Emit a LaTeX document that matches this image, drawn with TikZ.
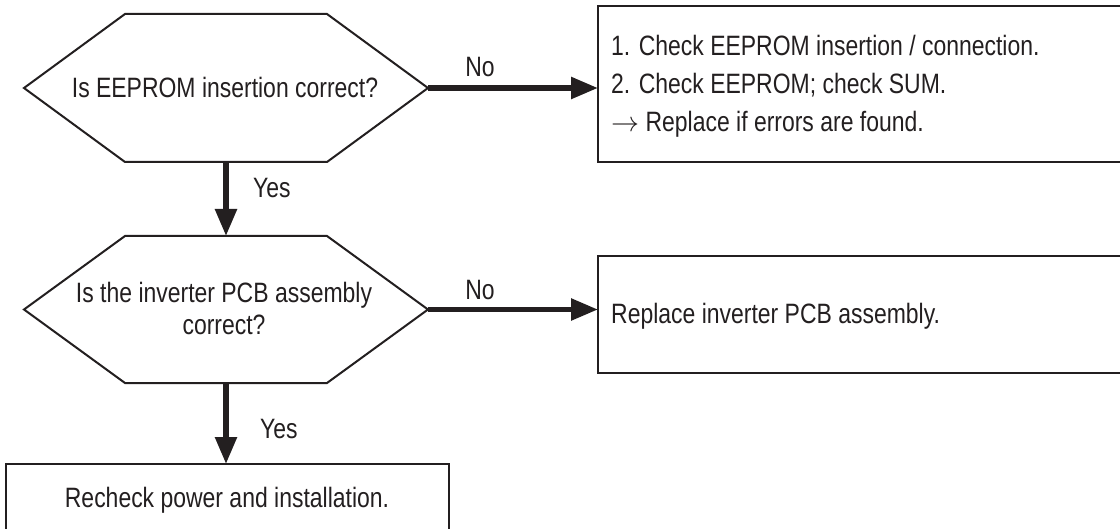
\RequirePackage{fix-cm}
\documentclass[tikz,border=0pt]{standalone}
\usepackage{fontspec}
\setmainfont{Liberation Sans}[FakeStretch=0.82]
\usetikzlibrary{arrows.meta,calc}
\definecolor{ink}{HTML}{231F20}
\begin{document}
\begin{tikzpicture}[x=1bp,y=-1bp,
  txt/.style={text=ink,font=\fontsize{28bp}{32bp}\selectfont,inner sep=0pt},
  hexline/.style={draw=ink,line width=2bp,line join=miter},
  boxline/.style={draw=ink,line width=2.3bp,inner sep=0pt,outer sep=0pt},
  flow/.style={draw=ink,line width=5.5bp,-{Triangle[length=27bp,width=21bp]}},
  frame/.style={inner sep=0pt,outer sep=0pt,draw=none}]
\useasboundingbox (0,0) rectangle (1120,529);
\clip (0,0) rectangle (1120,529);
\fill[white] (0,0) rectangle (1120,529);

% decision 1
\node[frame,minimum width=404bp,minimum height=148bp] (h1) at (226,88) {};
\draw[hexline] (h1.west) -- ($(h1.north west)+(101,0)$) -- ($(h1.north east)+(-101,0)$)
  -- (h1.east) -- ($(h1.south east)+(-101,0)$) -- ($(h1.south west)+(101,0)$) -- cycle;
\node[txt,anchor=base] (t1) at (225,98) {Is EEPROM insertion correct?};

% decision 2
\node[frame,minimum width=404bp,minimum height=147bp] (h2) at (226,309.5) {};
\draw[hexline] (h2.west) -- ($(h2.north west)+(101,0)$) -- ($(h2.north east)+(-101,0)$)
  -- (h2.east) -- ($(h2.south east)+(-101,0)$) -- ($(h2.south west)+(101,0)$) -- cycle;
\node[txt,anchor=base] (t2a) at (224,303) {Is the inverter PCB assembly};
\node[txt,anchor=base] (t2b) at (224,335) {correct?};

% boxes
\node[boxline,minimum width=530bp,minimum height=156bp,anchor=north west] (b1) at (598,6) {};
\node[txt,anchor=base west] (b1a) at (611,56) {1. Check EEPROM insertion / connection.};
\node[txt,anchor=base west] (b1b) at (611,94) {2. Check EEPROM; check SUM.};
\node[txt,anchor=base west] (b1c) at (611,132) {$\rightarrow$ Replace if errors are found.};

\node[boxline,minimum width=530bp,minimum height=117bp,anchor=north west] (b2) at (598,256) {};
\node[txt,anchor=base west] (b2a) at (611,324) {Replace inverter PCB assembly.};

\node[boxline,minimum width=443bp,minimum height=90bp,anchor=north west] (b3) at (6,464) {};
\node[txt,anchor=base] (b3a) at (227,507) {Recheck power and installation.};

% connectors
\draw[flow] (h1.east) -- (h1.east -| b1.west);
\draw[flow] (h2.east) -- (h2.east -| b2.west);
\draw[flow] (h1.south) -- (h2.north);
\draw[flow] (h2.south) -- (b3.north -| h2.south);

% labels
\node[txt,anchor=base] (n1) at (480,77) {No};
\node[txt,anchor=base] (n2) at (480,300) {No};
\node[txt,anchor=base west] (y1) at (253,198) {Yes};
\node[txt,anchor=base west] (y2) at (260,438) {Yes};
\end{tikzpicture}
\end{document}
